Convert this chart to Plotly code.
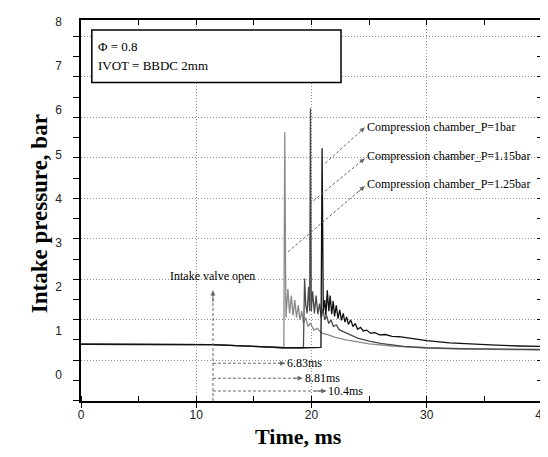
import plotly.graph_objects as go

# time (ms) / intake pressure (bar) for the three compression chamber pressures
t_p100 = [0, 5, 11.4, 15, 17.6, 19.5, 20.82, 20.92, 21.02, 21.15, 21.25, 21.37, 21.5, 21.62,
          21.75, 21.88, 22.0, 22.15, 22.3, 22.45, 22.6, 22.75, 22.9, 23.05, 23.2, 23.4, 23.6,
          23.8, 24.0, 24.25, 24.5, 24.8, 25.1, 25.5, 25.9, 26.4, 27.0, 27.6, 28.5, 30.0, 32.0,
          34.0, 36.0, 38.0, 40.0]
p_p100 = [0.70, 0.70, 0.69, 0.65, 0.62, 0.62, 0.63, 5.14, 1.45, 1.70, 1.35, 1.92, 1.45, 1.80,
          1.38, 1.68, 1.33, 1.58, 1.28, 1.48, 1.24, 1.40, 1.20, 1.32, 1.15, 1.25, 1.10,
          1.17, 1.04, 1.08, 1.00, 1.02, 0.95, 0.96, 0.91, 0.92, 0.88, 0.87, 0.83, 0.78, 0.73,
          0.70, 0.68, 0.66, 0.65]

t_p115 = [0, 5, 11.4, 15, 17.6, 19.3, 19.4, 19.5, 19.62, 19.75, 19.84, 19.91, 19.98, 20.1,
          20.25, 20.4, 20.55, 20.7, 20.85, 21.0, 21.15, 21.3, 21.5, 21.7, 21.9, 22.15, 22.4,
          22.8, 23.3, 24.0, 25.0, 26.0, 28.0, 30.0, 33.0, 36.0, 40.0]
p_p115 = [0.70, 0.70, 0.69, 0.65, 0.62, 0.62, 2.19, 1.60, 1.40, 2.00, 1.45, 6.04, 1.45, 1.90,
          1.40, 1.80, 1.38, 1.62, 1.30, 1.50, 1.25, 1.35, 1.17, 1.25, 1.10, 1.14, 1.03,
          0.98, 0.92, 0.84, 0.77, 0.72, 0.65, 0.62, 0.60, 0.59, 0.58]

t_p125 = [0, 5, 11.4, 15, 17.6, 17.68, 17.78, 17.95, 18.1, 18.25, 18.4, 18.55, 18.7, 18.85,
          19.0, 19.15, 19.3, 19.5, 19.7, 19.9, 20.2, 20.5, 20.9, 21.4, 22.0, 23.0, 24.0, 25.0,
          27.0, 30.0, 33.0, 36.0, 40.0]
p_p125 = [0.70, 0.70, 0.69, 0.65, 0.62, 5.50, 1.30, 1.95, 1.40, 1.80, 1.35, 1.70, 1.30, 1.58,
          1.25, 1.45, 1.18, 1.30, 1.10, 1.18, 1.02, 1.06, 0.95, 0.92, 0.86, 0.80, 0.75, 0.71,
          0.66, 0.61, 0.59, 0.58, 0.57]

y_labels = [0, 1, 2, 3, 4, 5, 6, 7, 8]
series_names = ['Compression chamber_P=1bar', 'Compression chamber_P=1.15bar',
                'Compression chamber_P=1.25bar']

# arrow tails/heads for the callouts (x in ms, y in bar)
callout_tail = [(21.2, 4.80), (19.83, 3.88), (17.95, 2.79)]
callout_head = [(24.62, 5.61), (24.62, 4.91), (24.62, 4.28)]
callout_text_y = [5.63, 4.96, 4.33]

ivo_time = 11.45
delay_labels = ['6.83ms', '8.81ms', '10.4ms']
delay_end = [17.7, 19.23, 21.28]
delay_y = [0.27, -0.07, -0.36]

V_RANGE = [-0.586, 8.045]     # pressure axis (labels)
G_RANGE = [-1.007, 8.403]     # grid axis

SERIF = 'Liberation Serif'
SANS = 'Liberation Sans'
DASH_COLOR = '#6a6a6a'

fig = go.Figure()

# empty traces so the frame / grid axes get drawn
fig.add_trace(go.Scatter(x=[], y=[], xaxis='x', yaxis='y', hoverinfo='skip'))
fig.add_trace(go.Scatter(x=[], y=[], xaxis='x2', yaxis='y', hoverinfo='skip'))
fig.add_trace(go.Scatter(x=[], y=[], xaxis='x', yaxis='y3', hoverinfo='skip'))

for t, p, c in [(t_p125, p_p125, '#8a8a8a'), (t_p115, p_p115, '#4a4a4a'), (t_p100, p_p100, '#111111')]:
    fig.add_trace(go.Scatter(x=t, y=p, mode='lines', yaxis='y2',
                             line=dict(color=c, width=1.3), hoverinfo='skip'))

annotations = []


def dashed_arrow(x0, y0, x1, y1):
    fig.add_trace(go.Scatter(x=[x0, x1], y=[y0, y1], mode='lines', yaxis='y2',
                             line=dict(color=DASH_COLOR, width=1, dash='3px,2px'),
                             hoverinfo='skip'))
    annotations.append(dict(x=x1, y=y1, xref='x', yref='y2',
                            ax=x1 - 0.12 * (x1 - x0), ay=y1 - 0.12 * (y1 - y0),
                            axref='x', ayref='y2', text='', showarrow=True,
                            arrowhead=2, arrowsize=1, arrowwidth=1, arrowcolor=DASH_COLOR))


for (x0, y0), (x1, y1), name, ty in zip(callout_tail, callout_head, series_names, callout_text_y):
    dashed_arrow(x0, y0, x1, y1)
    annotations.append(dict(x=24.65, y=ty, xref='x', yref='y2', text=name, showarrow=False,
                            xanchor='left', font=dict(family=SERIF, size=12, color='black')))

dashed_arrow(ivo_time, V_RANGE[0], ivo_time, 1.92)
annotations.append(dict(x=11.4, y=2.25, xref='x', yref='y2', text='Intake valve open',
                        showarrow=False, font=dict(family=SERIF, size=12, color='black')))

for lab, xe, yy in zip(delay_labels, delay_end, delay_y):
    dashed_arrow(ivo_time, yy, xe, yy)
    annotations.append(dict(x=xe + 0.02, y=yy, xref='x', yref='y2', text=lab, showarrow=False,
                            xanchor='left', font=dict(family=SERIF, size=12, color='black')))

# info box text
annotations.append(dict(x=1.3, y=7.44, xref='x', yref='y2', text='Φ = 0.8', showarrow=False,
                        xanchor='left', font=dict(family=SERIF, size=13, color='black')))
annotations.append(dict(x=1.3, y=7.01, xref='x', yref='y2', text='IVOT = BBDC 2mm',
                        showarrow=False, xanchor='left',
                        font=dict(family=SERIF, size=13, color='black')))

# axis titles
annotations.append(dict(x=0.472, y=-0.13, xref='paper', yref='paper', text='<b>Time, ms</b>',
                        showarrow=False, font=dict(family=SERIF, size=22, color='black')))
annotations.append(dict(x=-(73 - 17) / 468, y=0.491, xref='paper', yref='paper',
                        text='<b>Intake pressure, bar</b>', textangle=-90, showarrow=False,
                        font=dict(family=SERIF, size=23, color='black')))

grid_style = dict(showgrid=True, gridcolor='#8f8f8f', griddash='1px,2px', gridwidth=1)

fig.update_layout(
    width=548, height=457,
    margin=dict(l=73, r=7, t=10, b=64),
    paper_bgcolor='white', plot_bgcolor='white',
    showlegend=False,
    annotations=annotations,
    shapes=[dict(type='rect', xref='x', yref='y2', x0=0.94, x1=22.56, y0=6.63, y1=7.82,
                 line=dict(color='black', width=1.5), fillcolor='white', layer='above')],
    xaxis=dict(range=[0, 40], dtick=10, tick0=0, **grid_style, zeroline=False,
               ticks='outside', ticklen=5, tickcolor='black',
               minor=dict(dtick=5, ticks='inside', ticklen=5, tickcolor='black', showgrid=False),
               showline=True, linecolor='black', linewidth=2,
               tickfont=dict(family=SANS, size=12, color='#222'), ticklabelstandoff=-3),
    xaxis2=dict(range=[0, 40], overlaying='x', side='top', anchor='y', dtick=5,
                ticks='inside', ticklen=5, tickcolor='black', showticklabels=False,
                showgrid=False, zeroline=False, showline=True, linecolor='black', linewidth=1.5),
    yaxis=dict(range=G_RANGE, dtick=1, tick0=0, **grid_style, zeroline=False,
               ticks='outside', ticklen=6, tickcolor='black',
               minor=dict(dtick=0.5, ticks='outside', ticklen=6, tickcolor='black', showgrid=False),
               showticklabels=False, showline=True, linecolor='black', linewidth=2),
    yaxis2=dict(range=V_RANGE, overlaying='y', side='left', anchor='x',
                tickmode='array', tickvals=y_labels, ticktext=[str(v) for v in y_labels],
                ticks='', showgrid=False, zeroline=False, showline=False,
                tickfont=dict(family=SANS, size=12, color='#222'), ticklabelstandoff=18),
    yaxis3=dict(range=G_RANGE, overlaying='y', side='right', anchor='x', dtick=0.5, tick0=0,
                ticks='inside', ticklen=5, tickcolor='black', showticklabels=False,
                showgrid=False, zeroline=False, showline=True, linecolor='black', linewidth=1.5),
)

fig.write_html('out.html')
